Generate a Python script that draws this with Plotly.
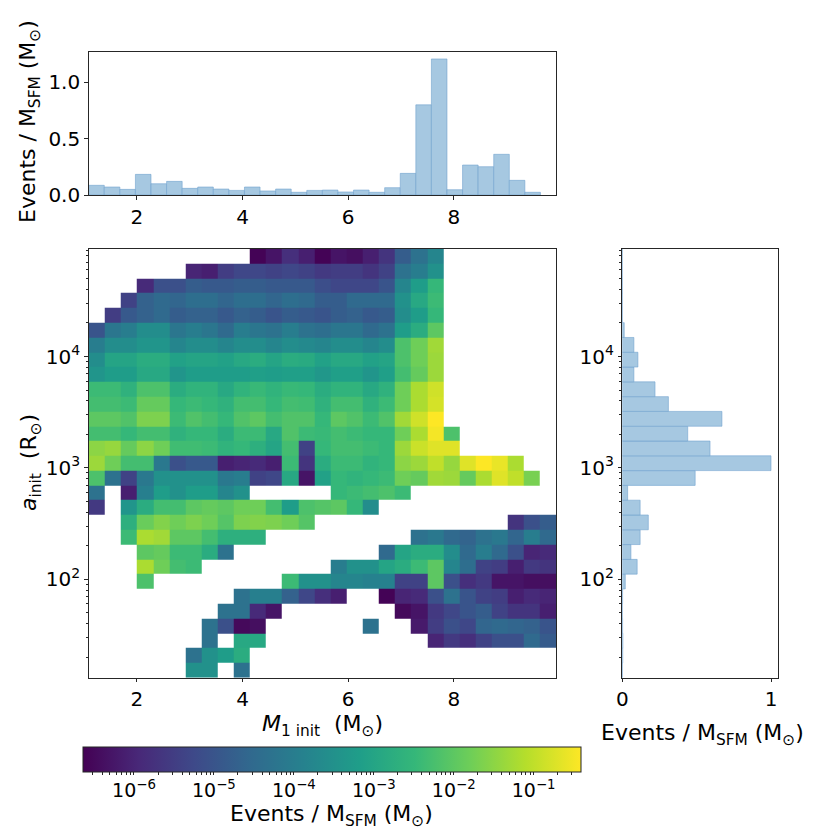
import numpy as np
import plotly.graph_objects as go

N = None

# log10(events / M_SFM) per cell, rows from largest a_init (top) to smallest (bottom),
# columns from smallest M1 (left) to largest (right); None = empty cell
rate_rows = [
    [N]*10 + [-6.6, -6.3, -5.8, -6.1, -6.6, -6.3, -6.4, -6.1, -5.7, -4.8, -4.3, -3.8] + [N]*7,
    [N]*6 + [-6.0, -6.1, -5.5, -5.3, -5.3, -5.4, -5.3, -5.4, -5.6, -5.5, -5.5, -5.7, -5.4, -4.3, -4.0, -3.5] + [N]*7,
    [N]*3 + [-5.9, -5.1, -5.1, -4.8, -4.9, -4.9, -4.8, -4.8, -4.9, -4.9, -4.9, -5.15, -5.3, -5.3, -5.3, -5.0, -3.8, -3.2, -2.5] + [N]*7,
    [N]*2 + [-5.4, -4.7, -4.5, -4.6, -4.4, -4.4, -4.6, -4.4, -4.4, -4.6, -4.4, -4.5, -4.8, -4.8, -4.5, -4.5, -4.5, -3.5, -2.9, -2.4] + [N]*7,
    [N] + [-5.5, -4.9, -4.7, -4.5, -4.8, -4.7, -4.7, -4.9, -4.7, -4.8, -5.0, -4.8, -4.9, -5.0, -4.8, -4.7, -4.9, -4.8, -3.6, -3.2, -2.5] + [N]*7,
    [-5.0, -4.2, -4.0, -3.6, -3.6, -4.2, -4.0, -4.2, -4.5, -4.0, -4.2, -4.3, -4.0, -4.3, -4.4, -4.2, -4.2, -4.5, -4.3, -3.2, -2.8, -2.0] + [N]*7,
    [-4.0, -3.6, -3.6, -3.4, -3.4, -3.8, -3.6, -3.6, -3.8, -3.6, -3.6, -3.8, -3.6, -3.7, -3.8, -3.6, -3.6, -3.8, -3.6, -2.2, -1.8, -1.3] + [N]*7,
    [-3.6, -3.0, -3.0, -2.8, -2.8, -3.1, -3.0, -3.0, -3.1, -2.9, -2.8, -3.0, -2.8, -2.85, -3.1, -2.9, -2.9, -3.1, -3.0, -2.2, -1.8, -1.35] + [N]*7,
    [-3.4, -3.2, -3.2, -2.9, -2.9, -3.4, -3.2, -3.2, -3.2, -3.2, -3.15, -3.2, -3.15, -3.15, -3.35, -3.15, -3.15, -3.4, -3.15, -2.3, -1.9, -1.35] + [N]*7,
    [-2.4, -2.4, -2.65, -2.2, -2.2, -2.8, -2.6, -2.6, -2.9, -2.6, -2.45, -2.6, -2.45, -2.5, -2.8, -2.6, -2.6, -2.9, -2.65, -1.8, -1.2, -0.85] + [N]*7,
    [-2.3, -2.3, -2.4, -1.9, -1.9, -2.5, -2.4, -2.5, -2.65, -2.3, -2.3, -2.5, -2.3, -2.35, -2.65, -2.3, -2.3, -2.65, -2.4, -1.8, -1.2, -0.8] + [N]*7,
    [-2.0, -2.0, -2.15, -1.65, -1.65, -2.4, -2.15, -2.3, -2.5, -2.15, -2.0, -2.3, -2.15, -2.15, -2.5, -2.0, -2.15, -2.4, -2.15, -1.3, -0.85, -0.4] + [N]*7,
    [-2.3, -2.3, -2.5, -2.3, -2.3, -2.65, -2.5, -2.5, -2.8, -2.4, -2.4, -2.9, -2.15, -2.4, -2.45, -2.3, -2.4, -2.5, -2.5, -1.8, -1.2, -0.5, -2.2] + [N]*6,
    [-1.5, -1.4, -1.9, -1.5, -1.8, -2.35, -2.35, -2.4, -2.6, -2.5, -2.7, -3.0, -2.3, -5.4, -2.5, -2.3, -2.3, -2.4, -2.5, -1.35, -0.9, -0.7, -0.7] + [N]*6,
    [-1.35, -1.8, -2.3, -2.3, -4.15, -5.1, -4.9, -4.9, -6.1, -6.0, -5.9, -6.1, -2.4, -5.7, -2.8, -2.4, -2.4, -2.6, -2.5, -1.5, -1.35, -1.0, -1.4, -0.7, -0.4, -0.6, -1.2] + [N]*2,
    [-2.2, -4.3, -5.4, -4.15, -3.5, -3.5, -3.5, -3.5, -4.15, -4.0, -5.4, -5.3, -2.9, -6.3, -3.1, -2.5, -2.6, -2.5, -2.4, -1.8, -1.9, -1.3, -1.35, -1.9, -1.2, -0.7, -1.0, -1.7, N],
    [-4.3, N, -6.1, -3.95, -3.2, -3.5, -3.2, -3.2, -3.8, -3.5, N, N, N, N, N, -2.5, -2.4, -2.3, -2.2, -2.4] + [N]*9,
    [-5.6, N, -3.4, -2.8, -2.3, -2.3, -2.0, -1.9, -2.0, -1.8, -1.8, -2.3, -3.2, -2.2, -2.1, -2.0, -2.5, -3.6] + [N]*11,
    [N, N, -2.7, -1.85, -1.6, -1.8, -1.65, -1.8, -2.1, -1.65, -1.6, -1.65, -1.8, -2.1] + [N]*12 + [-5.7, -5.1, -4.8],
    [N, N, -2.4, -1.2, -1.3, -2.0, -2.0, -2.3, -2.7, -2.7, -2.7] + [N]*9 + [-4.3, -4.15, -4.5, -4.65, -4.3, -4.15, -4.6, -4.0, -4.5],
    [N, N, N, -2.0, -1.9, -2.4, -2.4, -2.8, -4.3] + [N]*9 + [-4.5, -3.0, -2.8, -2.8, -3.6, -4.5, -4.0, -4.5, -5.1, -6.0, -5.9],
    [N, N, N, -1.2, -1.8, -2.3, -2.4] + [N]*8 + [-4.0, -3.5, -3.5, -3.0, -2.8, -2.4, -2.0, -3.8, -4.4, -5.4, -5.5, -6.1, -5.6, -5.7],
    [N, N, N, -2.2] + [N]*8 + [-2.4, -3.5, -3.5, -3.8, -3.8, -3.9, -3.9, -5.4, -5.4, -2.0, -5.1, -5.8, -5.6, -6.3, -6.3, -6.4, -6.4],
    [N]*9 + [-4.3, -3.95, -3.95, -4.7, -5.3, -5.8, -6.1, N, N, -6.6, -6.0, -5.9, -5.1, -4.3, -5.0, -5.4, -5.5, -6.1, -5.9, -6.0],
    [N]*8 + [-4.3, -4.3, -5.9, -6.3] + [N]*7 + [-6.5, -6.3, -5.6, -5.3, -5.0, -4.8, -5.4, -5.7, -5.7, -6.1],
    [N]*7 + [-4.3, -5.1, -6.5, -6.4] + [N]*6 + [-4.3, N, N, -6.2, -5.5, -5.1, -5.3, -4.6, -4.5, -4.6, -4.7, -5.0],
    [N]*7 + [-4.3, N, -2.9, -2.9] + [N]*10 + [-6.0, -5.6, -5.8, -5.4, -5.1, -5.1, -4.5, -4.85],
    [N]*6 + [-4.3, -3.5, -3.2, -2.8] + [N]*19,
    [N]*6 + [-3.5, -3.5, N, -4.3] + [N]*19,
]

# marginal in M1 (top panel), left to right
m1_rate = [0.086, 0.071, 0.050, 0.183, 0.100, 0.121, 0.059, 0.071, 0.053, 0.041,
           0.071, 0.036, 0.053, 0.024, 0.041, 0.044, 0.027, 0.044, 0.024, 0.065,
           0.192, 0.800, 1.207, 0.047, 0.266, 0.251, 0.361, 0.130, 0.024]

# marginal in a_init (right panel), top to bottom
a_rate = [0.0003, 0.0005, 0.001, 0.001, 0.001, 0.013, 0.078, 0.105, 0.078, 0.22,
          0.31, 0.67, 0.44, 0.59, 1.0, 0.49, 0.036, 0.12, 0.175, 0.12,
          0.058, 0.10, 0.02, 0.002, 0.001, 0.002, 0.004, 0.003, 0.001]

# bin ranges
m1_lo, m1_hi, m1_hist_hi = 1.087, 9.94, 9.64
loga_lo, loga_hi = 1.116, 4.968
cmin, cmax = -6.64, -0.41

nb = len(m1_rate)
x_edges = np.linspace(m1_lo, m1_hi, nb + 1)
y_edges = 10 ** np.linspace(loga_lo, loga_hi, len(a_rate) + 1)
hx_edges = np.linspace(m1_lo, m1_hist_hi, nb + 1)

FONT = "DejaVu Sans"
TICK = 20
LABEL = 22
AX = "#262626"
bar_fill = "#a6c8e1"
bar_line = "rgba(110,160,205,0.7)"

ev_title = "Events / M<sub>SFM</sub> (M<sub>⊙</sub>)"

# colorbar ticks
cb_major = list(range(-6, 0))
cb_minor = [d + np.log10(k) for d in range(-7, 0) for k in range(2, 10)]
cb_minor = [v for v in cb_minor if cmin < v < cmax]
cb_vals = cb_major + cb_minor
cb_text = ["10<sup>−%d</sup>" % (-v) for v in cb_major] + [""] * len(cb_minor)

fig = go.Figure()

fig.add_trace(go.Heatmap(
    x=x_edges, y=y_edges, z=rate_rows[::-1],
    colorscale="Viridis", zmin=cmin, zmax=cmax,
    hoverinfo="skip",
    colorbar=dict(
        orientation="h", x=0.3998, xanchor="center", len=0.6003, lenmode="fraction",
        y=(830 - 747) / 830, yanchor="top", thickness=25, xpad=0, ypad=0,
        outlinecolor=AX, outlinewidth=1,
        tickmode="array", tickvals=cb_vals, ticktext=cb_text,
        ticks="outside", ticklen=2.5, tickcolor=AX,
        tickfont=dict(family=FONT, size=19, color="black"),
    ),
    xaxis="x", yaxis="y",
))

fig.add_trace(go.Bar(
    x=(hx_edges[:-1] + hx_edges[1:]) / 2, y=m1_rate, width=np.diff(hx_edges),
    marker=dict(color=bar_fill, line=dict(color=bar_line, width=0.8)),
    xaxis="x2", yaxis="y2", hoverinfo="skip",
))

a_rev = a_rate[::-1]
fig.add_trace(go.Bar(
    y=(y_edges[:-1] + y_edges[1:]) / 2, x=a_rev, width=np.diff(y_edges),
    orientation="h",
    marker=dict(color=bar_fill, line=dict(color=bar_line, width=0.8)),
    xaxis="x3", yaxis="y3", hoverinfo="skip",
))

W = 830.0
main_x = [88.7 / W, 556.3 / W]
main_y = [(W - 677.7) / W, (W - 248.7) / W]
top_y = [(W - 195.0) / W, (W - 52.3) / W]
right_x = [622.3 / W, 777.7 / W]

base_ax = dict(showline=True, linecolor=AX, linewidth=1, mirror=True,
               ticks="outside", ticklen=3.5, tickcolor=AX, tickwidth=1,
               showgrid=False, zeroline=False, automargin=False,
               tickfont=dict(family=FONT, size=TICK, color="black"))

log_minor = [k * 10 ** d for d in range(1, 5) for k in range(2, 10)]
log_ticks = dict(type="log", range=[loga_lo, loga_hi], tickmode="array",
                 tickvals=[100, 1000, 10000],
                 ticktext=["10<sup>2</sup>", "10<sup>3</sup>", "10<sup>4</sup>"],
                 minor=dict(tickmode="array", tickvals=log_minor, ticks="outside",
                            ticklen=2, tickcolor=AX))

fig.update_layout(
    width=830, height=830,
    template="none",
    paper_bgcolor="white", plot_bgcolor="white",
    margin=dict(l=0, r=0, t=0, b=0, autoexpand=False),
    showlegend=False,
    font=dict(family=FONT, size=TICK, color="black"),
    xaxis=dict(base_ax, domain=main_x, range=[m1_lo, m1_hi], tickvals=[2, 4, 6, 8],
               anchor="y"),
    yaxis=dict(base_ax, domain=main_y, anchor="x", **log_ticks),
    xaxis2=dict(base_ax, domain=main_x, range=[m1_lo, m1_hi], tickvals=[2, 4, 6, 8],
                anchor="y2"),
    yaxis2=dict(base_ax, domain=top_y, range=[0, 1.266], tickvals=[0, 0.5, 1.0],
                ticktext=["0.0", "0.5", "1.0"], anchor="x2"),
    xaxis3=dict(base_ax, domain=right_x, range=[0, 1.045], tickvals=[0, 1], anchor="y3"),
    yaxis3=dict(base_ax, domain=main_y, anchor="x3", **log_ticks),
)

ann = dict(xref="paper", yref="paper", showarrow=False,
           font=dict(family=FONT, size=LABEL, color="black"))
fig.add_annotation(ann, x=322.5 / W, y=(W - 725) / W,
                   text="<i>M</i><sub>1 init</sub>  (M<sub>⊙</sub>)",
                   xanchor="center", yanchor="middle")
fig.add_annotation(ann, x=30 / W, y=(W - 463) / W,
                   text="<i>a</i><sub>init</sub>  (R<sub>⊙</sub>)",
                   textangle=-90, xanchor="center", yanchor="middle")
fig.add_annotation(ann, x=30 / W, y=(W - 122) / W, text=ev_title,
                   textangle=-90, xanchor="center", yanchor="middle")
fig.add_annotation(ann, x=702 / W, y=(W - 734) / W, text=ev_title,
                   xanchor="center", yanchor="middle")
fig.add_annotation(ann, x=331 / W, y=(W - 815) / W, text=ev_title,
                   xanchor="center", yanchor="middle")

fig.write_html("out.html", config={"displayModeBar": False},
               post_script="document.body.style.margin='0';")
